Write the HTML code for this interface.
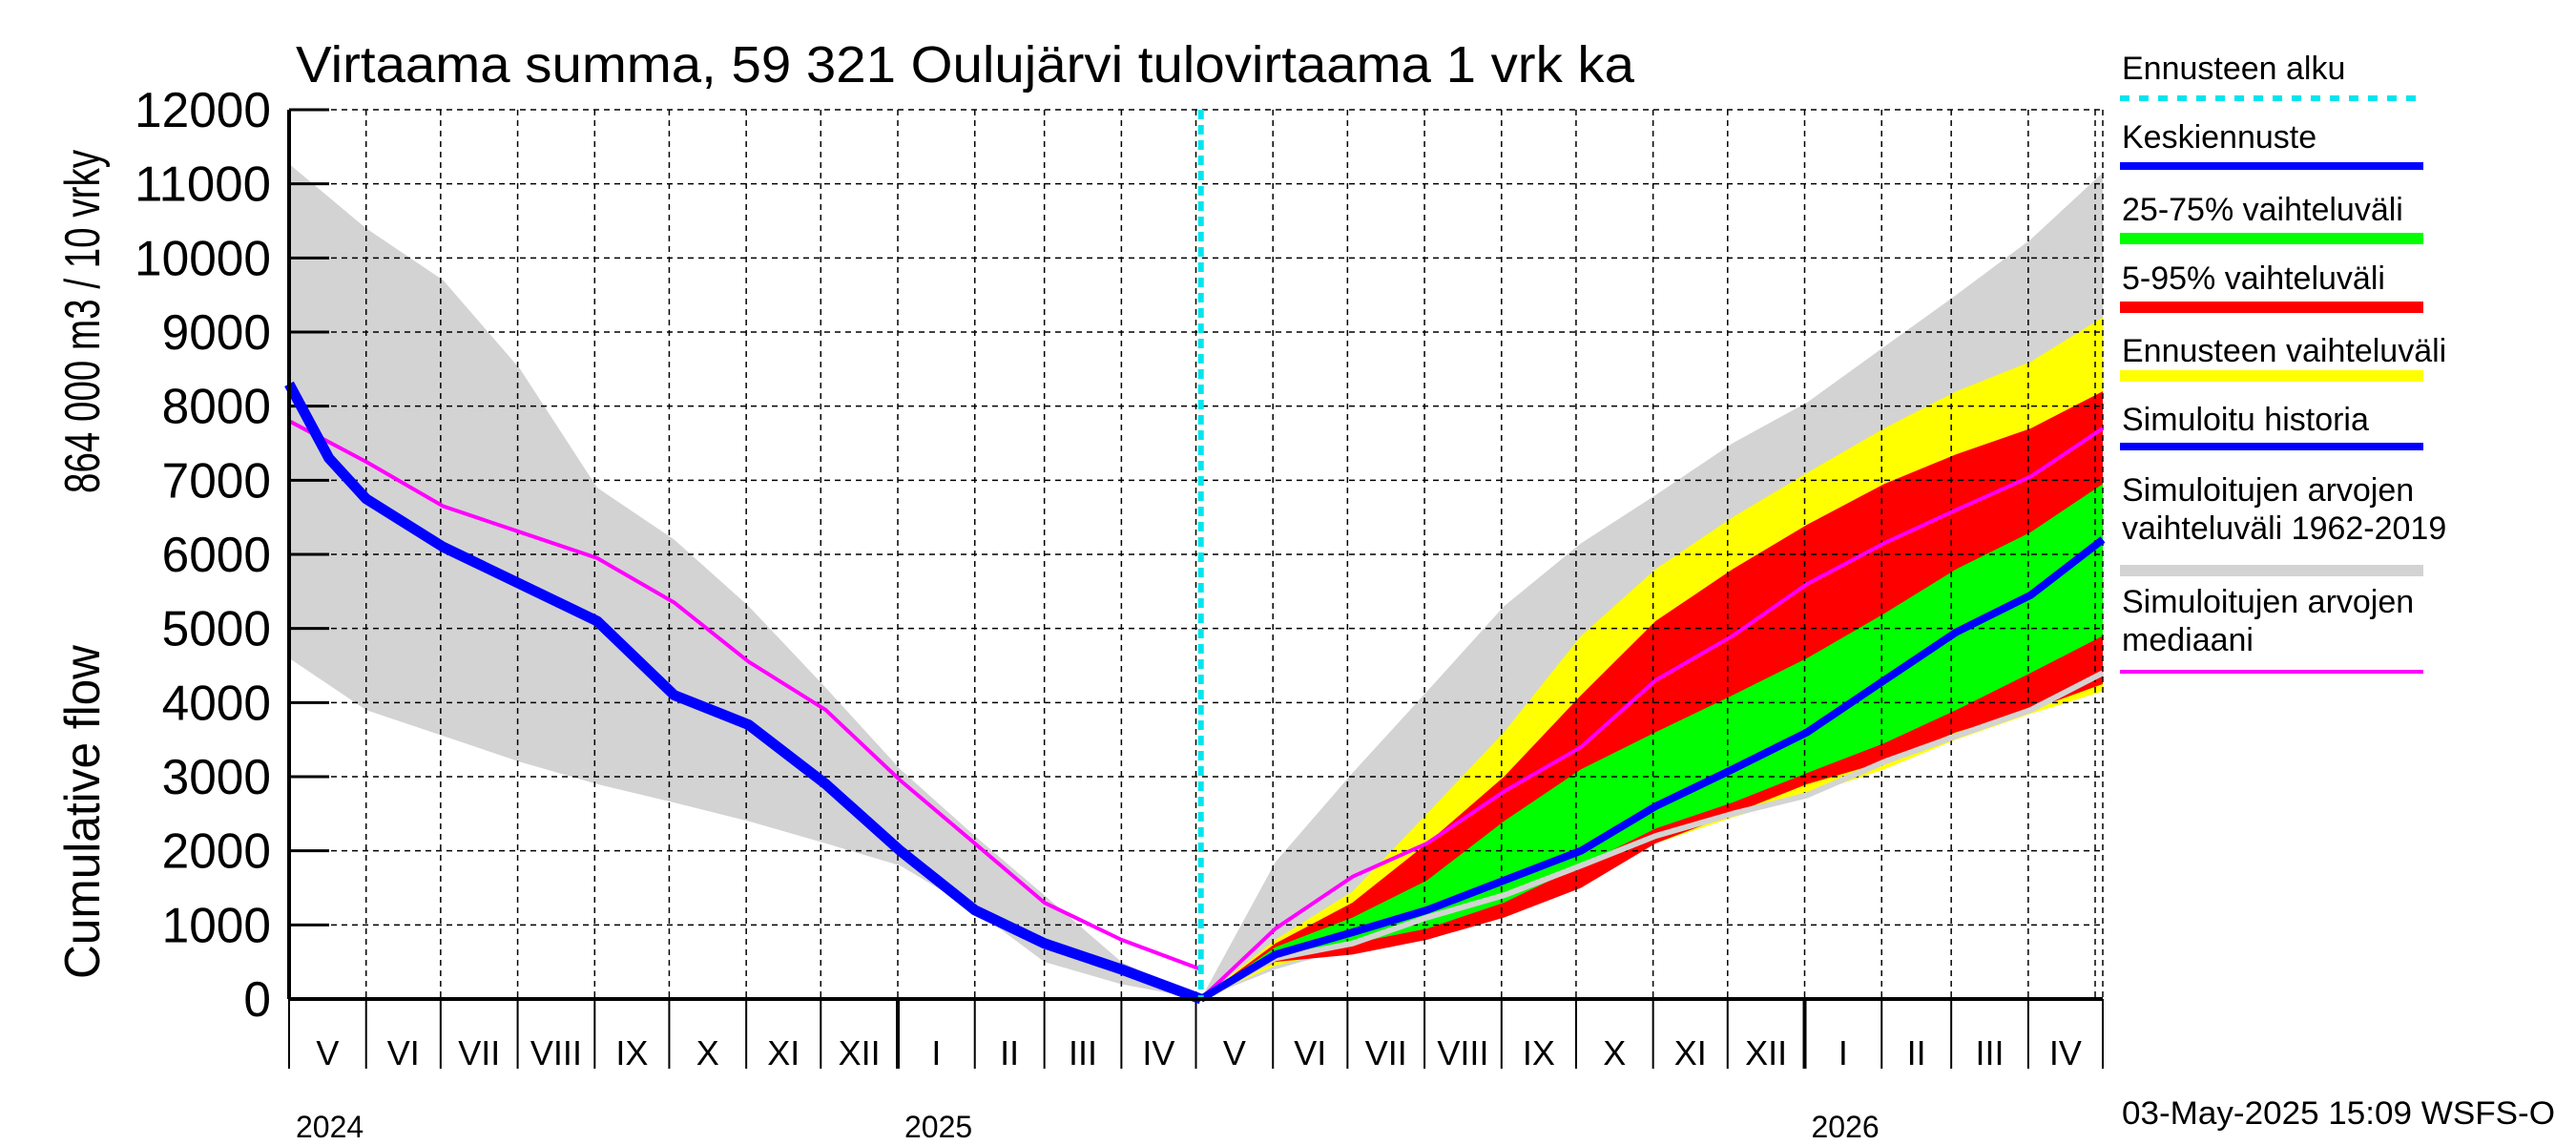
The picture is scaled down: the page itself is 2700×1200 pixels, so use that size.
<!DOCTYPE html>
<html><head><meta charset="utf-8"><style>
html,body{margin:0;padding:0;background:#fff}
svg{display:block;font-family:"Liberation Sans",sans-serif}
</style></head><body>
<svg id="c" width="2700" height="1200" viewBox="0 0 2700 1200"></svg>
<script>
const months=["V","VI","VII","VIII","IX","X","XI","XII","I","II","III","IV","V","VI","VII","VIII","IX","X","XI","XII","I","II","III","IV"];
const monthDays=[0,31,61,92,123,153,184,214,245,276,304,335,365,396,426,457,488,518,549,579,610,641,669,700,730];
const yTicks=[0,1000,2000,3000,4000,5000,6000,7000,8000,9000,10000,11000,12000];
const histDays=[0,31,62,93,124,155,185,216,246,276,304,335,367];
const histGrayHi=[11.27,10.4,9.7,8.5,6.9,6.2,5.3,4.2,3.1,2.2,1.4,0.5,0];
const histGrayLo=[4.6,3.9,3.55,3.2,2.9,2.65,2.4,2.1,1.8,1.2,0.5,0.2,0];
const histBlueDays=[0,16,31,62,93,124,155,185,216,246,276,304,335,367];
const histBlue=[8.3,7.3,6.75,6.1,5.6,5.1,4.1,3.7,2.9,2.0,1.2,0.75,0.4,0];
const histMag=[7.8,7.25,6.65,6.3,5.95,5.35,4.55,3.9,2.95,2.1,1.3,0.8,0.4,0];
const fcDays=[367,397,428,458,489,520,550,581,611,642,671,701,730];
const fcGrayHi=[0,1.85,3.05,4.15,5.3,6.15,6.8,7.5,8.05,8.8,9.5,10.25,11.15];
const fcGrayLo=[0,0.4,0.7,1.0,1.4,1.8,2.2,2.5,2.8,3.2,3.6,3.9,4.2];
const fcYelHi=[0,0.8,1.45,2.5,3.6,4.9,5.8,6.5,7.1,7.7,8.2,8.6,9.2];
const fcYelLo=[0,0.45,0.7,0.9,1.3,1.8,2.1,2.45,2.75,3.1,3.5,3.85,4.15];
const fcRedHi=[0,0.75,1.3,2.1,3.0,4.1,5.1,5.8,6.4,6.95,7.35,7.7,8.2];
const fcRedLo=[0,0.5,0.6,0.8,1.1,1.5,2.1,2.5,2.9,3.2,3.6,3.9,4.25];
const fcGrnHi=[0,0.7,1.1,1.6,2.4,3.1,3.6,4.1,4.6,5.2,5.8,6.3,6.95];
const fcGrnLo=[0,0.55,0.75,0.95,1.3,1.8,2.3,2.65,3.05,3.45,3.9,4.4,4.9];
const fcBlue=[0,0.6,0.9,1.2,1.6,2.0,2.6,3.1,3.6,4.3,4.95,5.45,6.2];
const fcMag=[0,0.95,1.65,2.1,2.8,3.4,4.3,4.9,5.6,6.15,6.6,7.05,7.7];
const fcMed=[0,0.55,0.75,1.1,1.4,1.8,2.2,2.5,2.75,3.2,3.55,3.9,4.4];
const forecastDay=367;

const X0=303,X1=2204,Y0=1047,Y1=115;
const xs=d=>X0+d*(X1-X0)/730;
const ys=v=>Y0-v*(Y0-Y1)/12;
const svg=document.getElementById('c');
const NS='http://www.w3.org/2000/svg';
function el(t,a,p){const e=document.createElementNS(NS,t);for(const k in a)e.setAttribute(k,a[k]);(p||svg).appendChild(e);return e;}
function band(days,hi,lo,fill,name){
  let d='M'+days.map((t,i)=>xs(t)+','+ys(hi[i])).join('L');
  for(let i=days.length-1;i>=0;i--)d+='L'+xs(days[i])+','+ys(lo[i]);
  const e=el('path',{d:d+'Z',fill:fill});
  
  
}
function line(days,v,stroke,w,name){
  const e=el('polyline',{points:days.map((t,i)=>xs(t)+','+ys(v[i])).join(' '),fill:'none',stroke:stroke,'stroke-width':w,'stroke-linejoin':'round'});
  
  
}
band(histDays,histGrayHi,histGrayLo,'#d3d3d3','history-range-band');
band(fcDays,fcGrayHi,fcGrayLo,'#d3d3d3','forecast-history-range-band');
band(fcDays,fcYelHi,fcYelLo,'#ffff00','forecast-range-band');
band(fcDays,fcRedHi,fcRedLo,'#ff0000','band-5-95');
band(fcDays,fcGrnHi,fcGrnLo,'#00ff00','band-25-75');
yTicks.forEach(v=>{const e=el('line',{x1:X0,x2:X1,y1:ys(v/1000),y2:ys(v/1000),stroke:'#000','stroke-width':1.5,'stroke-dasharray':'6,5'});

const t=el('line',{x1:X0,x2:X0+42,y1:ys(v/1000),y2:ys(v/1000),stroke:'#000','stroke-width':3});

const s=String(v);
const l=el('text',{x:284-s.length*28.6,y:ys(v/1000)+18,'font-size':52,textLength:s.length*28.6,lengthAdjust:'spacingAndGlyphs'});l.textContent=s;
});
monthDays.forEach((d,i)=>{const yr=(i===8||i===20);
const g=el('line',{x1:xs(d),x2:xs(d),y1:Y1,y2:Y0,stroke:'#000','stroke-width':1.5,'stroke-dasharray':'6,5'});

const t=el('line',{x1:xs(d),x2:xs(d),y1:Y0,y2:1120,stroke:'#000','stroke-width':yr?4:2});

if(i<months.length){const l=el('text',{x:(xs(d)+xs(monthDays[i+1]))/2,y:1116,'text-anchor':'middle','font-size':36});l.textContent=months[i];
}});
el('line',{x1:X1-8,x2:X1-8,y1:Y1,y2:Y0,stroke:'#000','stroke-width':1.5,'stroke-dasharray':'6,5'});
[['2024',0],['2025',245],['2026',610]].forEach(([s,d])=>{const l=el('text',{x:xs(d)+7,y:1192,'font-size':32});l.textContent=s;
});
line(fcDays,fcMed,'#d3d3d3',6,'median-forecast-line');
line(histDays,histMag,'#ff00ff',4,'history-median-line');
line(fcDays,fcMag,'#ff00ff',4,'forecast-median-line');
line(histBlueDays,histBlue,'#0000ff',11,'simulated-history-line');
line(fcDays,fcBlue,'#0000ff',8,'mean-forecast-line');
const fl=el('line',{x1:xs(forecastDay),x2:xs(forecastDay),y1:Y1,y2:Y0,stroke:'#00e5ee','stroke-width':6,'stroke-dasharray':'10,6'});

el('line',{x1:X0,x2:X0,y1:Y1,y2:Y0,stroke:'#000','stroke-width':4});
el('line',{x1:X0,x2:X1,y1:Y0,y2:Y0,stroke:'#000','stroke-width':4});
const ti=el('text',{x:310,y:86,'font-size':54,textLength:1403,lengthAdjust:'spacingAndGlyphs'});ti.textContent='Virtaama summa, 59 321 Oulujärvi tulovirtaama 1 vrk ka';

const yt1=el('text',{x:0,y:0,'font-size':52,transform:'translate(104,1026) rotate(-90)',textLength:350,lengthAdjust:'spacingAndGlyphs'});
yt1.textContent='Cumulative flow';

const yt2=el('text',{x:0,y:0,'font-size':52,transform:'translate(104,517) rotate(-90)',textLength:360,lengthAdjust:'spacingAndGlyphs'});
yt2.textContent='864 000 m3 / 10 vrky';

const leg=[[['Ennusteen alku'],83,103,'#00e5ee',6,'10,10'],[['Keskiennuste'],155,174,'#0000ff',8],[['25-75% vaihteluväli'],231,250,'#00ff00',12],
[['5-95% vaihteluväli'],303,322,'#ff0000',12],[['Ennusteen vaihteluväli'],379,394,'#ffff00',12],[['Simuloitu historia'],451,468,'#0000ff',8],
[['Simuloitujen arvojen','vaihteluväli 1962-2019'],525,598,'#d3d3d3',12],[['Simuloitujen arvojen','mediaani'],642,704,'#ff00ff',4]];
leg.forEach(([lines,ty,ly,c,w,da])=>{
  lines.forEach((s,j)=>{const t=el('text',{x:2224,y:ty+j*40,'font-size':34});t.textContent=s;
  });
  const a={x1:2222,x2:2540,y1:ly,y2:ly,stroke:c,'stroke-width':w};if(da)a['stroke-dasharray']=da;
  const l=el('line',a);
});
const ft=el('text',{x:2224,y:1178,'font-size':34,textLength:454,lengthAdjust:'spacingAndGlyphs'});ft.textContent='03-May-2025 15:09 WSFS-O';

</script>
</body></html>
